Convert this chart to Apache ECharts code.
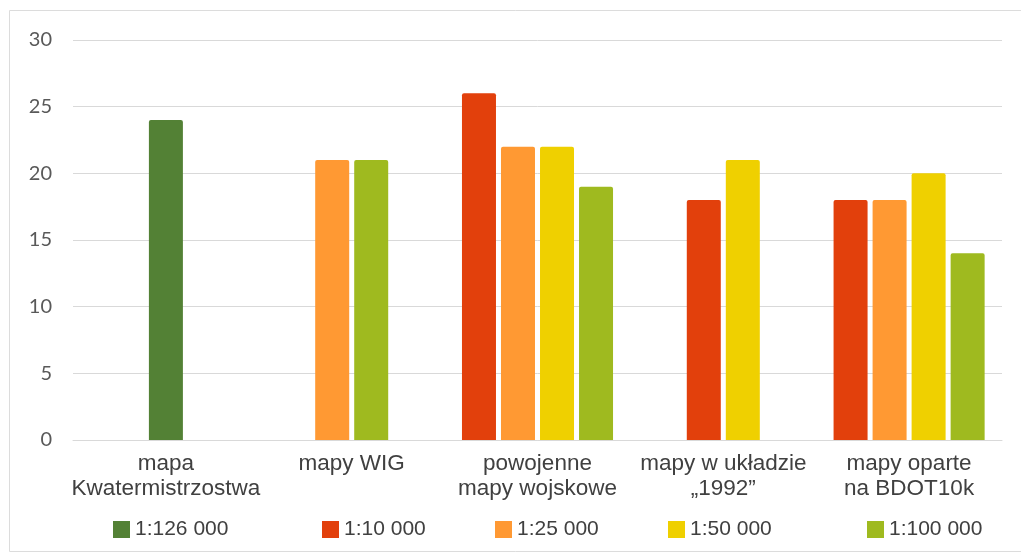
<!DOCTYPE html>
<html>
<head>
<meta charset="utf-8">
<script src="https://cdn.jsdelivr.net/npm/echarts@6/dist/echarts.min.js"></script>
<style>
  html, body { margin: 0; padding: 0; background: #ffffff; }
  #chart { width: 1021px; height: 556px; }
</style>
</head>
<body>
<div id="chart"></div>
<script>
// Map types on the category axis
const categories = [
  'mapa\nKwatermistrzostwa',
  'mapy WIG',
  'powojenne\nmapy wojskowe',
  'mapy w układzie\n„1992”',
  'mapy oparte\nna BDOT10k'
];

// Map scales (one series each)
const scaleNames = ['1:126 000', '1:10 000', '1:25 000', '1:50 000', '1:100 000'];

// Values per category (null = no maps of that scale)
const s126000 = [24, null, null, null, null];
const s10000  = [null, null, 26, 18, 18];
const s25000  = [null, 21, 22, null, 18];
const s50000  = [null, null, 22, 21, 20];
const s100000 = [null, 21, 19, null, 14];

const yTicks = [0, 5, 10, 15, 20, 25, 30];

const seriesValues = [s126000, s10000, s25000, s50000, s100000];
const colors = ['#538135', '#e2400c', '#ff9933', '#efd000', '#9fba1f'];
const legendLeft = [108, 317, 490, 663, 862];

const chart = echarts.init(document.getElementById('chart'), null, { renderer: 'canvas' });

// Bars of one category are packed side by side and centred on the category,
// skipping the scales that have no value there.
function makeRenderer(seriesIdx) {
  return function (params, api) {
    const cat = api.value(0);
    const val = api.value(1);
    const present = [];
    seriesValues.forEach((arr, k) => { if (arr[cat] != null) present.push(k); });
    const pos = present.indexOf(seriesIdx);
    const band = api.size([1, 0])[0];
    const pitch = band * 0.21;
    const barW = band * 0.183;
    const center = api.coord([cat, 0]);
    const top = api.coord([cat, val]);
    const cx = center[0] + (pos - (present.length - 1) / 2) * pitch;
    return {
      type: 'rect',
      shape: { x: cx - barW / 2, y: top[1], width: barW, height: center[1] - top[1], r: [2, 2, 0, 0] },
      style: api.style()
    };
  };
}

const series = seriesValues.map((arr, k) => ({
  name: scaleNames[k],
  type: 'custom',
  renderItem: makeRenderer(k),
  encode: { x: 0, y: 1 },
  itemStyle: { color: colors[k] },
  data: arr.map((v, i) => [i, v]).filter(d => d[1] != null)
}));

const legends = scaleNames.map((n, k) => ({
  data: [n],
  left: legendLeft[k],
  top: 514,
  icon: 'rect',
  itemWidth: 17,
  itemHeight: 17,
  selectedMode: false,
  textStyle: { fontFamily: 'Liberation Sans', fontSize: 21, color: '#404040' }
}));

chart.setOption({
  animation: false,
  backgroundColor: '#ffffff',
  graphic: [{
    type: 'rect',
    shape: { x: 9.5, y: 10.5, width: 1040, height: 541 },
    style: { fill: 'none', stroke: '#dcdcdc', lineWidth: 1 },
    silent: true
  }],
  grid: { left: 73, right: 19, top: 40, bottom: 116 },
  legend: legends,
  xAxis: {
    type: 'category',
    data: categories,
    axisLine: { show: true, lineStyle: { color: '#d9d9d9', width: 1 } },
    axisTick: { show: false },
    axisLabel: {
      interval: 0,
      margin: 11,
      fontFamily: 'Liberation Sans',
      fontSize: 22.5,
      lineHeight: 25,
      color: '#404040'
    }
  },
  yAxis: {
    type: 'value',
    min: yTicks[0],
    max: yTicks[yTicks.length - 1],
    interval: yTicks[1] - yTicks[0],
    axisLine: { show: false },
    axisTick: { show: false },
    splitLine: { lineStyle: { color: '#d9d9d9', width: 1 } },
    axisLabel: {
      margin: 21,
      fontFamily: 'Lato',
      fontSize: 20,
      color: '#595959'
    }
  },
  series: series
});
</script>
</body>
</html>
